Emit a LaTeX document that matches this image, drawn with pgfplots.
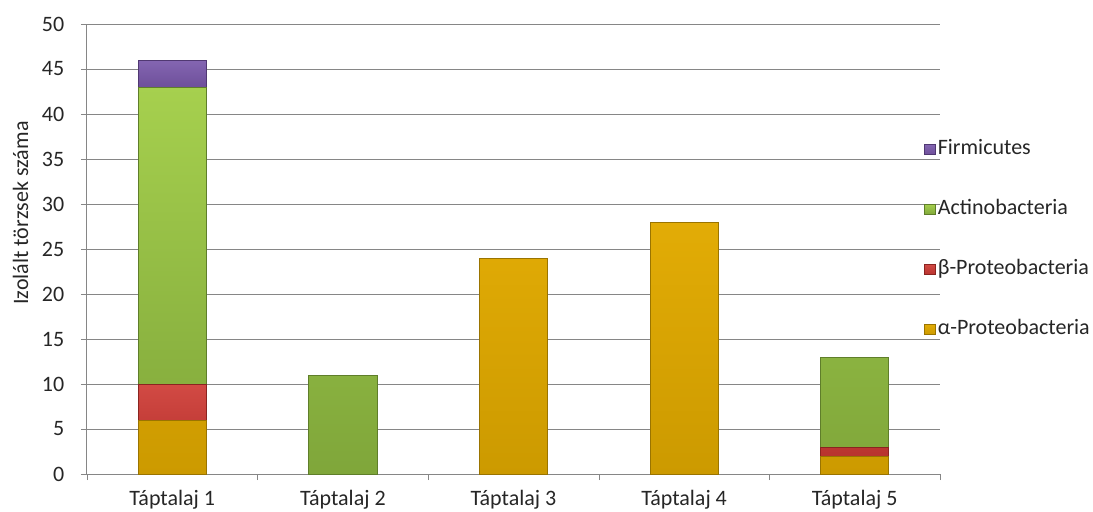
\documentclass[border=0pt]{standalone}
\usepackage{fontspec}
\setmainfont{Carlito}
\usepackage{pgfplots}
\pgfplotsset{compat=1.18}

\definecolor{gridgray}{HTML}{868686}
\definecolor{alphatop}{HTML}{E2AC06}
\definecolor{alphabot}{HTML}{CC9A00}
\definecolor{alphaedge}{HTML}{9A7400}
\definecolor{betatop}{HTML}{D24A44}
\definecolor{betabot}{HTML}{B8332E}
\definecolor{betaedge}{HTML}{8A2420}
\definecolor{actitop}{HTML}{A6D04E}
\definecolor{actibot}{HTML}{7FA63A}
\definecolor{actiedge}{HTML}{5F7E2A}
\definecolor{firmtop}{HTML}{8466B2}
\definecolor{firmbot}{HTML}{6E4F9A}
\definecolor{firmedge}{HTML}{503872}

\begin{document}
\fontsize{11}{13}\selectfont
\begin{tikzpicture}
\path[use as bounding box] (-43.5pt,-18.5pt) rectangle (503pt,237pt);
\begin{axis}[
  at={(0,0)}, anchor=south west,
  scale only axis,
  width=426.5pt, height=225pt,
  ybar stacked,
  bar width=34pt,
  xmin=-0.5, xmax=4.5,
  ymin=0, ymax=50,
  ytick={0,5,...,50},
  xtick={0,1,2,3,4},
  xticklabels={Táptalaj 1,Táptalaj 2,Táptalaj 3,Táptalaj 4,Táptalaj 5},
  minor xtick={-0.5,0.5,1.5,2.5,3.5,4.5},
  major x tick style={draw=none},
  minor x tick style={draw=gridgray},
  ytick style={draw=gridgray},
  tick align=outside,
  major tick length=3pt,
  minor tick length=3pt,
  axis x line*=bottom,
  axis y line*=left,
  axis line style={draw=gridgray, line width=0.5pt},
  ymajorgrids,
  grid style={draw=gridgray, line width=0.5pt},
  /pgf/number format/assume math mode=true,
  tick label style={font=\fontsize{11}{13}\selectfont, text=black!85},
  yticklabel style={xshift=-4.5pt},
  xticklabel style={yshift=-1.3pt},
  every axis y label/.style={at={(axis description cs:-0.078,0.58)}, anchor=center, rotate=90, font=\fontsize{11}{13}\selectfont, text=black!85},
  ylabel={Izolált törzsek száma},
  reverse legend,
  legend cell align=left,
  legend style={
    at={(axis description cs:0.974,0.7555)}, anchor=north west,
    draw=none, fill=none,
    font=\fontsize{11}{13}\selectfont,
    text=black!85,
    row sep=19pt,
    nodes={inner sep=1pt, text height=7pt, text depth=2pt},
  },
  legend image code/.code={\draw[#1] (0pt,-2.7pt) rectangle (5.4pt,2.7pt);},
]
% α-Proteobacteria
\addplot[top color=alphatop, bottom color=alphabot, draw=alphaedge, line width=0.4pt]
  coordinates {(0,6) (1,0) (2,24) (3,28) (4,2)};
% β-Proteobacteria
\addplot[top color=betatop, bottom color=betabot, draw=betaedge, line width=0.4pt]
  coordinates {(0,4) (1,0) (2,0) (3,0) (4,1)};
% Actinobacteria
\addplot[top color=actitop, bottom color=actibot, draw=actiedge, line width=0.4pt]
  coordinates {(0,33) (1,11) (2,0) (3,0) (4,10)};
% Firmicutes
\addplot[top color=firmtop, bottom color=firmbot, draw=firmedge, line width=0.4pt]
  coordinates {(0,3) (1,0) (2,0) (3,0) (4,0)};
\legend{α-Proteobacteria,β-Proteobacteria,Actinobacteria,Firmicutes}
\end{axis}
\end{tikzpicture}
\end{document}
